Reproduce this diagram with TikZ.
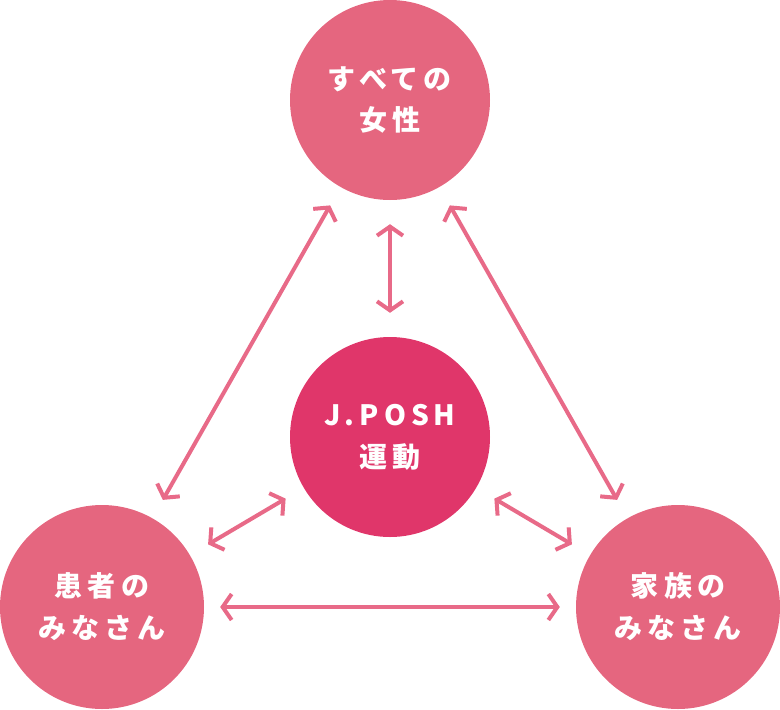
\documentclass[tikz,border=0pt]{standalone}
\usepackage{fontspec}
\usetikzlibrary{arrows.meta}
\newfontfamily\jpfont[LetterSpace=18]{Noto Sans CJK JP}
\definecolor{ringpink}{HTML}{E5667F}
\definecolor{corepink}{HTML}{E0366A}
\definecolor{arrowpink}{HTML}{E86A88}

\begin{document}
\begin{tikzpicture}[x=1pt, y=-1pt,
    >={Straight Barb[length=9pt, width=26pt]},
    group/.style={circle, fill=ringpink, minimum size=204pt, inner sep=0pt,
      text=white, align=center, font=\jpfont\bfseries\fontsize{28}{42}\selectfont},
    core/.style={group, fill=corepink, minimum size=200pt},
    link/.style={<->, arrowpink, line width=4pt, shorten <=#1, shorten >=#1},
    link/.default=21pt,
  ]
  \useasboundingbox (0,0) rectangle (780,710);
  \node[group, minimum size=200pt] (women) at (390,100) {すべての\\女性};
  \node[core] (posh) at (390,437) {J.POSH\\運動};
  \node[group] (patients) at (102,607) {患者の\\みなさん};
  \node[group] (families) at (678,607) {家族の\\みなさん};
  \draw[link=24pt] (women) -- (posh);
  \draw[link] (women) -- (patients);
  \draw[link] (women) -- (families);
  \draw[link] (posh) -- (patients);
  \draw[link] (posh) -- (families);
  \draw[link=16pt] (patients) -- (families);
\end{tikzpicture}
\end{document}
